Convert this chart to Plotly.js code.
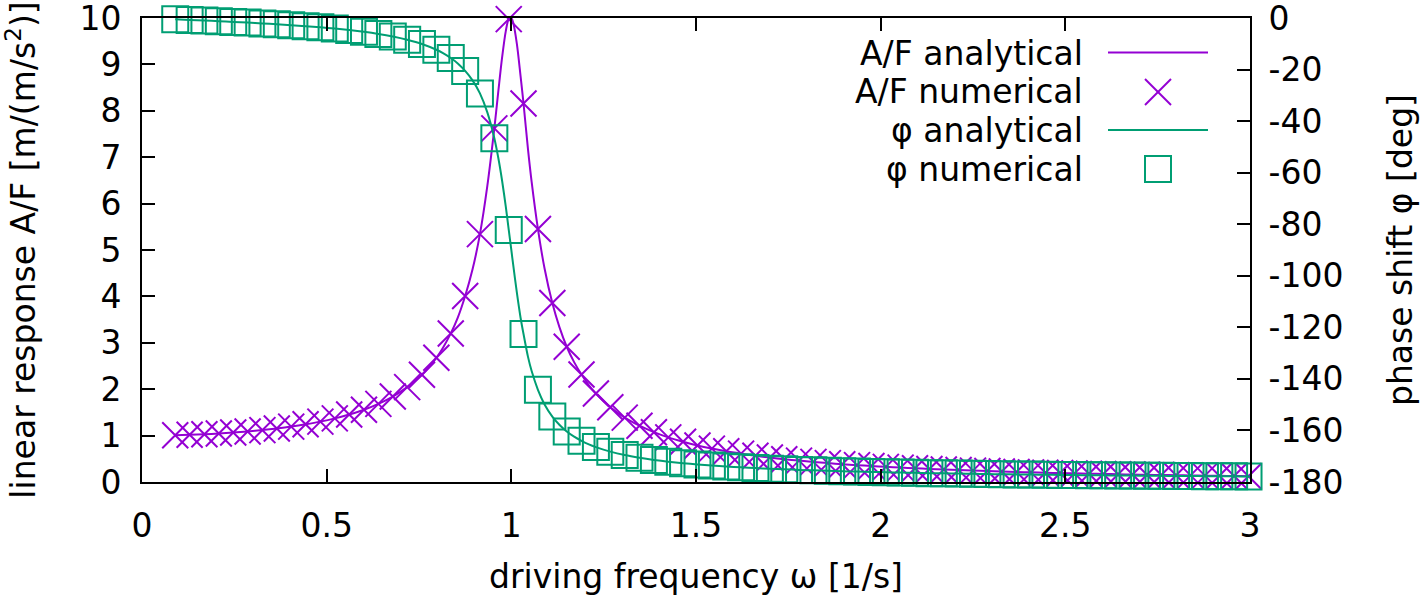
<!DOCTYPE html>
<html>
<head>
<meta charset="utf-8">
<script src="https://cdn.plot.ly/plotly-3.0.1.min.js"></script>
<style>html,body{margin:0;padding:0;background:#fff;}#chart{width:1421px;height:600px;}</style>
</head>
<body>
<div id="chart"></div>
<script>
// numerical sample points: driving frequency [1/s]
const omegaNum = [0.090,0.129,0.169,0.208,0.247,0.286,0.326,0.365,0.404,0.443,0.483,0.522,0.561,0.601,0.640,0.679,0.718,0.758,0.797,0.836,0.875,0.915,0.954,0.993,1.033,1.072,1.111,1.150,1.190,1.229,1.268,1.307,1.347,1.386,1.425,1.465,1.504,1.543,1.582,1.622,1.661,1.700,1.739,1.779,1.818,1.857,1.896,1.936,1.975,2.014,2.054,2.093,2.132,2.171,2.211,2.250,2.289,2.328,2.368,2.407,2.446,2.486,2.525,2.564,2.603,2.643,2.682,2.721,2.760,2.800,2.839,2.878,2.917,2.957,2.996];
const ampNum = [1.008,1.017,1.029,1.045,1.065,1.089,1.118,1.153,1.194,1.243,1.301,1.371,1.455,1.557,1.683,1.841,2.044,2.311,2.677,3.202,4.008,5.342,7.622,9.976,8.158,5.454,3.856,2.915,2.316,1.906,1.610,1.387,1.213,1.074,0.961,0.867,0.787,0.720,0.661,0.611,0.566,0.527,0.492,0.461,0.433,0.407,0.384,0.363,0.344,0.326,0.310,0.295,0.282,0.269,0.257,0.246,0.236,0.226,0.217,0.208,0.200,0.193,0.186,0.179,0.173,0.167,0.161,0.156,0.151,0.146,0.142,0.137,0.133,0.129,0.125];
const phaseNum = [-0.52,-0.75,-0.99,-1.24,-1.51,-1.79,-2.09,-2.41,-2.77,-3.16,-3.60,-4.10,-4.68,-5.37,-6.18,-7.18,-8.44,-10.08,-12.32,-15.53,-20.54,-29.25,-46.64,-82.23,-122.61,-144.22,-154.63,-160.41,-164.01,-166.45,-168.22,-169.56,-170.60,-171.44,-172.13,-172.71,-173.20,-173.62,-173.99,-174.32,-174.60,-174.86,-175.09,-175.30,-175.49,-175.66,-175.82,-175.97,-176.10,-176.23,-176.35,-176.46,-176.56,-176.65,-176.74,-176.83,-176.91,-176.99,-177.06,-177.13,-177.19,-177.25,-177.31,-177.37,-177.42,-177.47,-177.52,-177.57,-177.61,-177.66,-177.70,-177.74,-177.78,-177.81,-177.85];

// analytical curve points
const omegaAna = [0.090,0.129,0.169,0.208,0.247,0.286,0.326,0.365,0.404,0.443,0.483,0.522,0.561,0.601,0.640,0.679,0.718,0.758,0.797,0.815,0.836,0.855,0.875,0.895,0.915,0.935,0.954,0.965,0.975,0.985,0.993,1.000,1.005,1.015,1.025,1.033,1.045,1.055,1.072,1.090,1.111,1.130,1.150,1.170,1.190,1.210,1.229,1.268,1.307,1.347,1.386,1.425,1.465,1.504,1.543,1.582,1.622,1.661,1.700,1.739,1.779,1.818,1.857,1.896,1.936,1.975,2.014,2.054,2.093,2.132,2.171,2.211,2.250,2.289,2.328,2.368,2.407,2.446,2.486,2.525,2.564,2.603,2.643,2.682,2.721,2.760,2.800,2.839,2.878,2.917,2.957,2.996,3.000];
const ampAna = [1.008,1.017,1.029,1.045,1.065,1.089,1.118,1.153,1.194,1.243,1.301,1.371,1.455,1.557,1.683,1.841,2.044,2.311,2.677,2.894,3.202,3.543,4.008,4.583,5.342,6.381,7.622,8.439,9.150,9.718,9.976,10.000,9.901,9.442,8.747,8.158,7.181,6.468,5.454,4.600,3.856,3.344,2.915,2.584,2.316,2.085,1.906,1.610,1.387,1.213,1.074,0.961,0.867,0.787,0.720,0.661,0.611,0.566,0.527,0.492,0.461,0.433,0.407,0.384,0.363,0.344,0.326,0.310,0.295,0.282,0.269,0.257,0.246,0.236,0.226,0.217,0.208,0.200,0.193,0.186,0.179,0.173,0.167,0.161,0.156,0.151,0.146,0.142,0.137,0.133,0.129,0.125,0.125];
const phaseAna = [-0.52,-0.75,-0.99,-1.24,-1.51,-1.79,-2.09,-2.41,-2.77,-3.16,-3.60,-4.10,-4.68,-5.37,-6.18,-7.18,-8.44,-10.08,-12.32,-13.64,-15.53,-17.63,-20.54,-24.22,-29.25,-36.63,-46.64,-54.52,-63.14,-73.18,-82.23,-90.00,-95.70,-106.58,-116.29,-122.61,-131.37,-136.97,-144.22,-149.91,-154.63,-157.80,-160.41,-162.40,-164.01,-165.39,-166.45,-168.22,-169.56,-170.60,-171.44,-172.13,-172.71,-173.20,-173.62,-173.99,-174.32,-174.60,-174.86,-175.09,-175.30,-175.49,-175.66,-175.82,-175.97,-176.10,-176.23,-176.35,-176.46,-176.56,-176.65,-176.74,-176.83,-176.91,-176.99,-177.06,-177.13,-177.19,-177.25,-177.31,-177.37,-177.42,-177.47,-177.52,-177.57,-177.61,-177.66,-177.70,-177.74,-177.78,-177.81,-177.85,-177.85];

const xTickVals = [0,0.5,1,1.5,2,2.5,3];
const xTickText = ['0','0.5','1','1.5','2','2.5','3'];
const yTickVals = [0,1,2,3,4,5,6,7,8,9,10];
const yTickText = ['0','1','2','3','4','5','6','7','8','9','10'];
const y2TickVals = [0,-20,-40,-60,-80,-100,-120,-140,-160,-180];
const y2TickText = ['0','-20','-40','-60','-80','-100','-120','-140','-160','-180'];
const seriesNames = ['A/F analytical','A/F numerical','φ analytical','φ numerical'];

const PURPLE = '#9400d3', GREEN = '#009e73';
const FONT = 'DejaVu Sans, sans-serif';
const FS = 33;

const traces = [
  {x: omegaAna, y: ampAna, type: 'scatter', mode: 'lines', name: seriesNames[0],
   line: {color: PURPLE, width: 2, shape: 'spline', smoothing: 0.8}, yaxis: 'y'},
  {x: omegaNum, y: ampNum, type: 'scatter', mode: 'markers', name: seriesNames[1], cliponaxis: false,
   marker: {symbol: 'x-thin-open', size: 26, color: PURPLE, line: {color: PURPLE, width: 2}}, yaxis: 'y'},
  {x: omegaAna, y: phaseAna, type: 'scatter', mode: 'lines', name: seriesNames[2],
   line: {color: GREEN, width: 2, shape: 'spline', smoothing: 0.8}, yaxis: 'y2'},
  {x: omegaNum, y: phaseNum, type: 'scatter', mode: 'markers', name: seriesNames[3], cliponaxis: false,
   marker: {symbol: 'square-open', size: 26, color: GREEN, line: {color: GREEN, width: 2}}, yaxis: 'y2'}
];

// plot area in pixels
const L = 142, R = 1250, T = 18, B = 482;
const px = v => (v - L) / (R - L);
const py = v => (B - v) / (B - T);

// manual gnuplot-style key (text right, sample left)
const rows = [53, 92, 130.5, 169.5];
const txtRight = 1085, sx0 = 1108, sx1 = 1208, sc = 1158, hs = 13;
const annotations = seriesNames.map((t, i) => ({
  xref: 'paper', yref: 'paper', x: px(txtRight), y: py(rows[i]), xanchor: 'right', yanchor: 'middle',
  text: t, showarrow: false, font: {family: FONT, size: FS, color: '#000'}
}));
const shapes = [
  {type: 'line', xref: 'paper', yref: 'paper', x0: px(sx0), x1: px(sx1), y0: py(52.5), y1: py(52.5), line: {color: PURPLE, width: 2}},
  {type: 'line', xref: 'paper', yref: 'paper', x0: px(sc - hs), x1: px(sc + hs), y0: py(rows[1] - hs), y1: py(rows[1] + hs), line: {color: PURPLE, width: 2}},
  {type: 'line', xref: 'paper', yref: 'paper', x0: px(sc - hs), x1: px(sc + hs), y0: py(rows[1] + hs), y1: py(rows[1] - hs), line: {color: PURPLE, width: 2}},
  {type: 'line', xref: 'paper', yref: 'paper', x0: px(sx0), x1: px(sx1), y0: py(130), y1: py(130), line: {color: GREEN, width: 2}},
  {type: 'rect', xref: 'paper', yref: 'paper', x0: px(sc - hs), x1: px(sc + hs), y0: py(169 + hs), y1: py(169 - hs), line: {color: GREEN, width: 2}, fillcolor: 'rgba(0,0,0,0)'}
];

const axisCommon = {
  showgrid: false, zeroline: false, showline: true, linecolor: '#000', linewidth: 2,
  ticks: 'inside', ticklen: 13, tickwidth: 2, tickcolor: '#000',
  ticklabeloverflow: 'allow',
  tickfont: {family: FONT, size: FS, color: '#000'}
};

const layout = {
  width: 1421, height: 600,
  margin: {l: L, r: 1421 - R, t: T, b: 600 - B, pad: 0},
  paper_bgcolor: '#fff', plot_bgcolor: '#fff',
  showlegend: false,
  font: {family: FONT, size: FS, color: '#000'},
  xaxis: Object.assign({}, axisCommon, {
    range: [0, 3], tickmode: 'array', tickvals: xTickVals, ticktext: xTickText, mirror: 'ticks',
    ticklabelstandoff: 13,
    title: {text: 'driving frequency ω [1/s]', font: {family: FONT, size: FS, color: '#000'}, standoff: 21}
  }),
  yaxis: Object.assign({}, axisCommon, {
    range: [0, 10], tickmode: 'array', tickvals: yTickVals, ticktext: yTickText, mirror: false,
    ticklabelstandoff: 12,
    title: {text: 'linear response A/F [m/(m/s<sup>2</sup>)]', font: {family: FONT, size: FS, color: '#000'}, standoff: 50}
  }),
  yaxis2: Object.assign({}, axisCommon, {
    range: [-180, 0], tickmode: 'array', tickvals: y2TickVals, ticktext: y2TickText,
    overlaying: 'y', side: 'right', mirror: false,
    ticklabelstandoff: 10,
    title: {text: 'phase shift φ [deg]', font: {family: FONT, size: FS, color: '#000'}, standoff: 46}
  }),
  annotations: annotations,
  shapes: shapes
};

Plotly.newPlot('chart', traces, layout, {displayModeBar: false, staticPlot: true});
</script>
</body>
</html>
